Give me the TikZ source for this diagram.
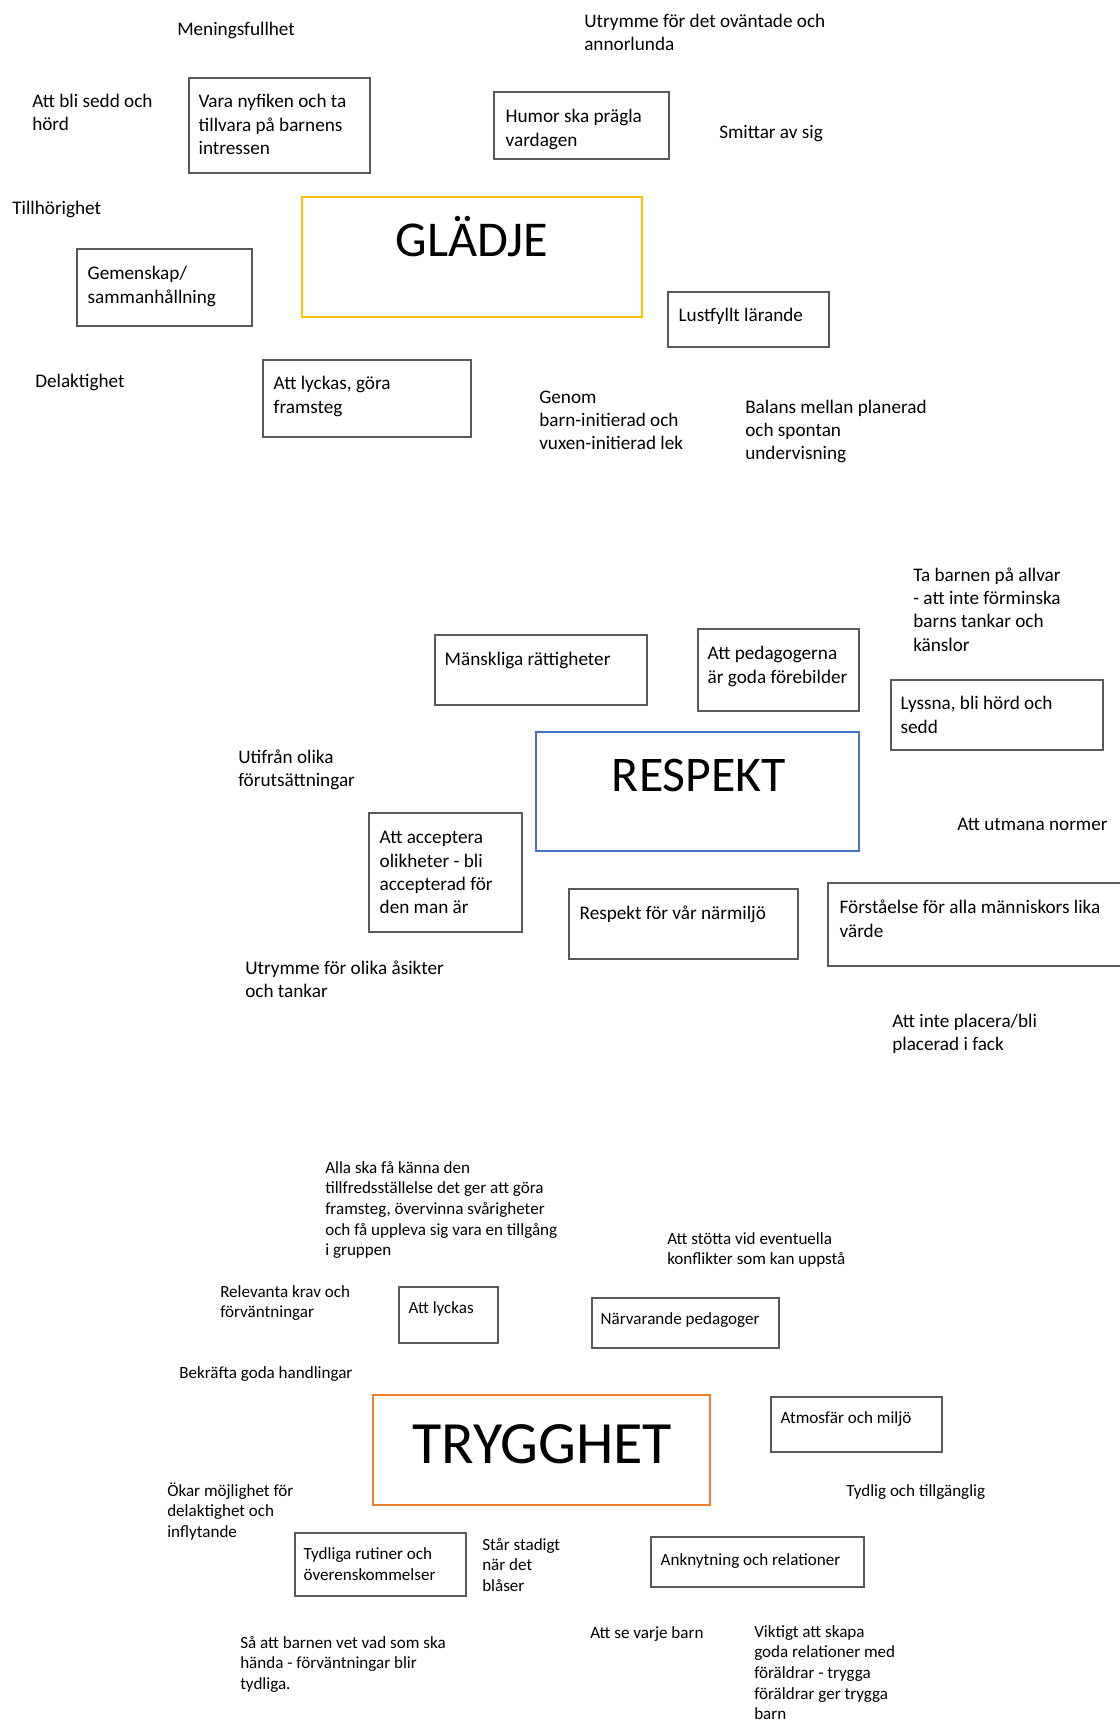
\documentclass[tikz,border=0pt]{standalone}
\usepackage{fontspec}
\setmainfont{Carlito}
\usepackage{xcolor}
\usetikzlibrary{fit}
\definecolor{gladje-gul}{HTML}{FFC000}
\definecolor{respekt-bla}{HTML}{4472C4}
\definecolor{trygghet-orange}{HTML}{ED7D31}
\tikzset{
    card/.style = {draw=black!65, line width=0.9pt, rectangle, inner sep=0pt},
    theme-box/.style = {draw=#1, line width=1.4pt, rectangle, inner sep=0pt},
    note/.style = {anchor=north west, yshift=10.75pt, align=left, inner sep=0pt, font=\fontsize{14.4}{17.5}\selectfont, execute at begin node=\strut},
    small-note/.style = {anchor=north west, yshift=9.35pt, align=left, inner sep=0pt, font=\fontsize{12.8}{15.5}\selectfont, execute at begin node=\strut},
    theme-title/.style = {anchor=base, inner sep=0pt},
}

\begin{document}
\begin{tikzpicture}[x=0.75pt, y=-0.75pt]
\useasboundingbox[fill=white] (0,0) rectangle (1120,1720);

% GLÄDJE
\node[theme-box=gladje-gul, fit={(302,197) (642,317)}] (gladje) {};
\node[theme-title, font=\fontsize{37.6}{40}\selectfont] (gladje-title) at (472,256) {GLÄDJE};
\node[note] (meningsfullhet) at (177,33) {Meningsfullhet};
\node[note] (ovantade) at (584,25) {\strut Utrymme för det oväntade och\\annorlunda};
\node[note] (sedd) at (32,105) {\strut Att bli sedd och\\hörd};
\node[card, fit={(189,78) (370,173)}] (nyfiken) {};
\node[note] (nyfiken-text) at ([shift={(10,28)}]nyfiken.north west) {\strut Vara nyfiken och ta\\tillvara på barnens\\intressen};
\node[card, fit={(494,92) (669,159)}] (humor) {};
\node[note] (humor-text) at ([shift={(12,29)}]humor.north west) {\strut Humor ska prägla\\vardagen};
\node[note] (smittar) at (719,136) {Smittar av sig};
\node[note] (tillhorighet) at (12,212) {Tillhörighet};
\node[card, fit={(77,249) (252,326)}] (gemenskap) {};
\node[note] (gemenskap-text) at ([shift={(11,29)}]gemenskap.north west) {\strut Gemenskap/\\sammanhållning};
\node[card, fit={(668,292) (829,347)}] (lustfyllt) {};
\node[note] (lustfyllt-text) at ([shift={(11,28)}]lustfyllt.north west) {Lustfyllt lärande};
\node[note] (delaktighet) at (35,385) {Delaktighet};
\node[card, fit={(263,360) (471,437)}] (framsteg) {};
\node[note] (framsteg-text) at ([shift={(11,28)}]framsteg.north west) {\strut Att lyckas, göra\\framsteg};
\node[note] (lek) at (539,401) {\strut Genom\\barn-initierad och\\vuxen-initierad lek};
\node[note] (balans) at (745,411) {\strut Balans mellan planerad\\och spontan\\undervisning};

% RESPEKT
\node[theme-box=respekt-bla, fit={(536,732) (859,851)}] (respekt) {};
\node[theme-title, font=\fontsize{37.4}{40}\selectfont] (respekt-title) at (699,791) {RESPEKT};
\node[note] (allvar) at (913,579) {\strut Ta barnen på allvar\\- att inte förminska\\barns tankar och\\känslor};
\node[card, fit={(435,635) (647,705)}] (rattigheter) {};
\node[note] (rattigheter-text) at ([shift={(10,29)}]rattigheter.north west) {Mänskliga rättigheter};
\node[card, fit={(698,629) (859,711)}] (forebilder) {};
\node[note] (forebilder-text) at ([shift={(10,29)}]forebilder.north west) {\strut Att pedagogerna\\är goda förebilder};
\node[card, fit={(891,680) (1103,750)}] (lyssna) {};
\node[note] (lyssna-text) at ([shift={(10,28)}]lyssna.north west) {\strut Lyssna, bli hörd och\\sedd};
\node[note] (utifran) at (238,761) {\strut Utifrån olika\\förutsättningar};
\node[card, fit={(369,813) (522,932)}] (acceptera) {};
\node[note] (acceptera-text) at ([shift={(11,29)}]acceptera.north west) {\strut Att acceptera\\olikheter - bli\\accepterad för\\den man är};
\node[note] (normer) at (957,828) {Att utmana normer};
\node[card, fit={(569,889) (798,959)}] (narmiljo) {};
\node[note] (narmiljo-text) at ([shift={(11,29)}]narmiljo.north west) {Respekt för vår närmiljö};
\node[card, fit={(828,883) (1132,966)}] (forstaelse) {};
\node[note] (forstaelse-text) at ([shift={(12,29)}]forstaelse.north west) {\strut Förståelse för alla människors lika\\värde};
\node[note] (asikter) at (245,972) {\strut Utrymme för olika åsikter\\och tankar};
\node[note] (fack) at (892,1025) {\strut Att inte placera/bli\\placerad i fack};

% TRYGGHET
\node[theme-box=trygghet-orange, fit={(373,1395) (710,1505)}] (trygghet) {};
\node[theme-title, font=\fontsize{45}{48}\selectfont] (trygghet-title) at (542,1463) {TRYGGHET};
\node[small-note] (tillfredsstallelse) at (325,1171) {\strut Alla ska få känna den\\tillfredsställelse det ger att göra\\framsteg, övervinna svårigheter\\och få uppleva sig vara en tillgång\\i gruppen};
\node[small-note] (konflikter) at (667,1242) {\strut Att stötta vid eventuella\\konflikter som kan uppstå};
\node[small-note] (krav) at (220,1295) {\strut Relevanta krav och\\förväntningar};
\node[card, fit={(399,1287) (498,1343)}] (lyckas) {};
\node[small-note] (lyckas-text) at ([shift={(10,25)}]lyckas.north west) {Att lyckas};
\node[card, fit={(592,1298) (779,1348)}] (narvarande) {};
\node[small-note] (narvarande-text) at ([shift={(9,25)}]narvarande.north west) {Närvarande pedagoger};
\node[small-note] (bekrafta) at (179,1376) {Bekräfta goda handlingar};
\node[card, fit={(771,1397) (942,1452)}] (atmosfar) {};
\node[small-note] (atmosfar-text) at ([shift={(10,25)}]atmosfar.north west) {Atmosfär och miljö};
\node[small-note] (inflytande) at (167,1494) {\strut Ökar möjlighet för\\delaktighet och\\inflytande};
\node[small-note] (tillganglig) at (846,1494) {Tydlig och tillgänglig};
\node[card, fit={(295,1533) (466,1596)}] (rutiner) {};
\node[small-note] (rutiner-text) at ([shift={(9,25)}]rutiner.north west) {\strut Tydliga rutiner och\\överenskommelser};
\node[small-note] (stadigt) at (482,1548) {\strut Står stadigt\\när det\\blåser};
\node[card, fit={(651,1537) (864,1587)}] (anknytning) {};
\node[small-note] (anknytning-text) at ([shift={(10,27)}]anknytning.north west) {Anknytning och relationer};
\node[small-note] (forvantningar) at (240,1646) {\strut Så att barnen vet vad som ska\\hända - förväntningar blir\\tydliga.};
\node[small-note] (varje-barn) at (590,1636) {Att se varje barn};
\node[small-note] (foraldrar) at (754,1635) {\strut Viktigt att skapa\\goda relationer med\\föräldrar - trygga\\föräldrar ger trygga\\barn};
\end{tikzpicture}
\end{document}
